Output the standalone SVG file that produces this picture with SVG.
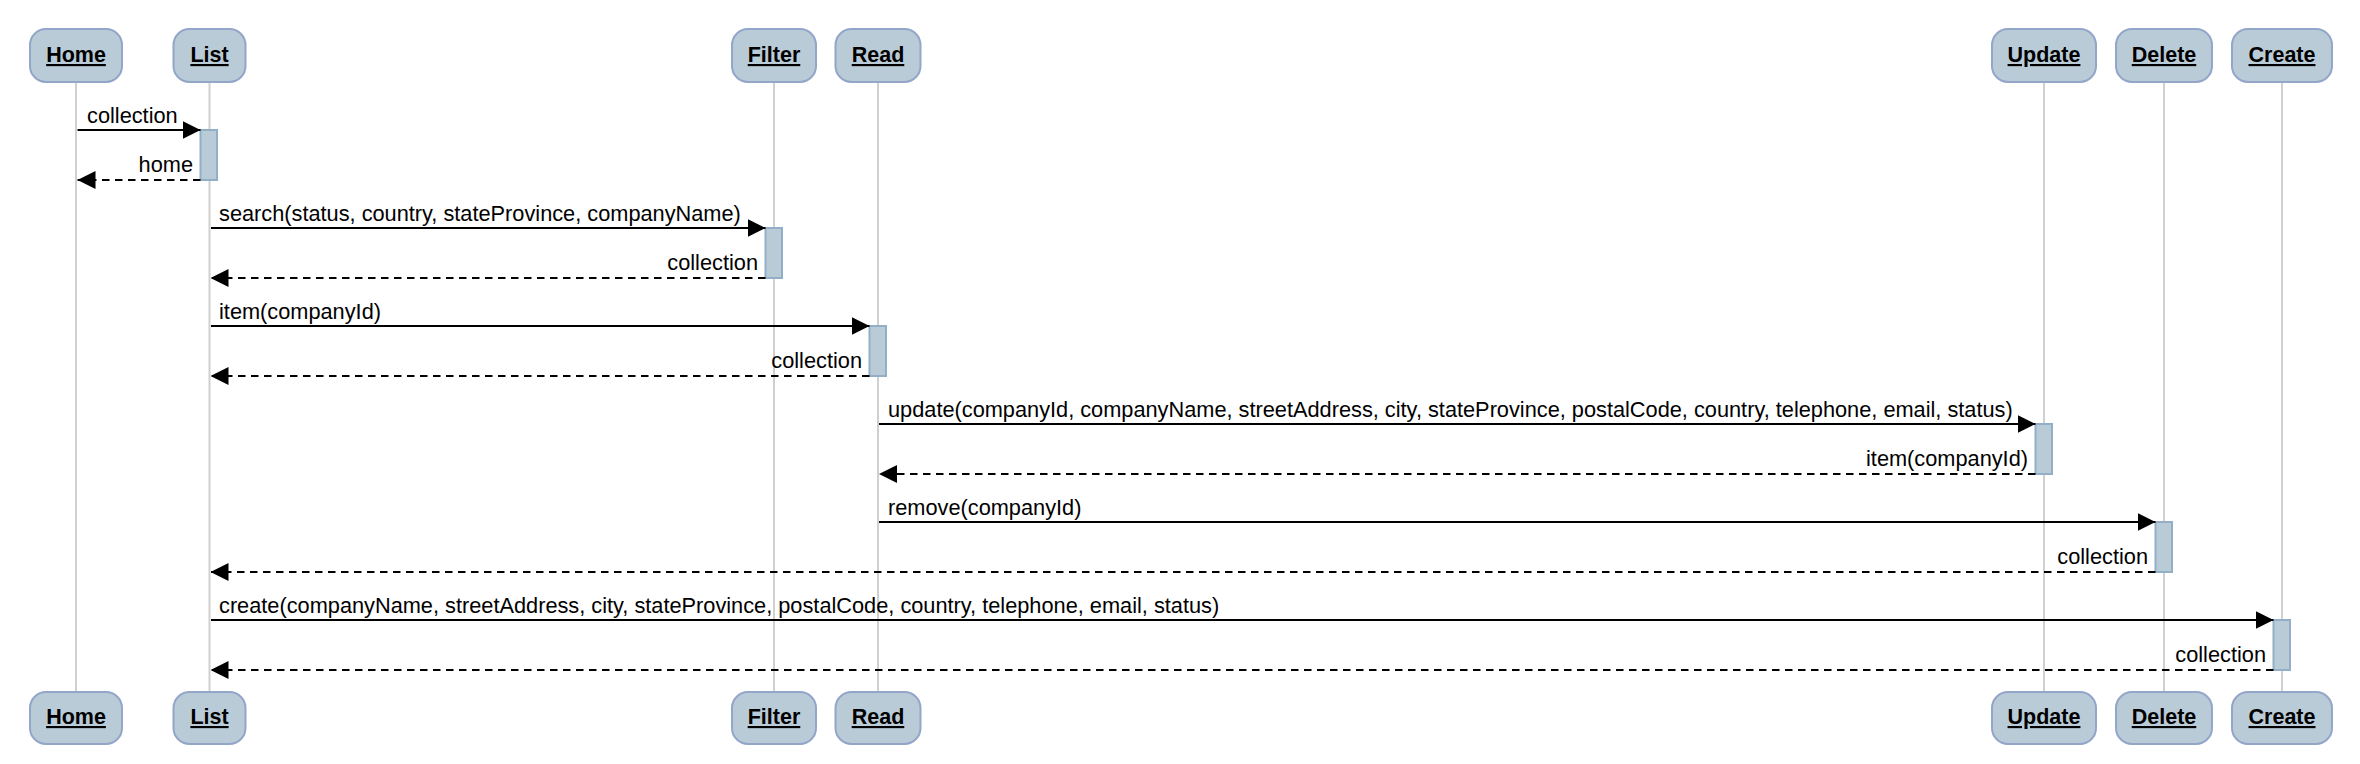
<svg xmlns="http://www.w3.org/2000/svg" width="2360" height="764" viewBox="0 0 2360 764">
<style>
.box{fill:#bacbd8;stroke:#93a5c8;stroke-width:2}
.title{font-family:"Liberation Sans",Arial,sans-serif;font-size:21.5px;font-weight:bold;text-anchor:middle;text-decoration:underline;fill:#000}
.life{stroke:#d0d0d0;stroke-width:2}
.act{fill:#bacbd8;stroke:#93afc8;stroke-width:2}
.msg{stroke:#000;stroke-width:2;fill:none;marker-end:url(#ah)}
.ret{stroke:#000;stroke-width:2;fill:none;stroke-dasharray:7.5 5.5;marker-end:url(#ah)}
.lbl{font-family:"Liberation Sans",Arial,sans-serif;font-size:21.75px;fill:#000}
.r{text-anchor:end}
</style>
<defs>
<marker id="ah" markerUnits="userSpaceOnUse" markerWidth="18" markerHeight="18" refX="18" refY="9" orient="auto">
<path d="M0,0 L18,9 L0,18 z" fill="#000"/>
</marker>
</defs>
<rect width="2360" height="764" fill="#fff"/>
<g id="lifelines">
<line class="life" x1="76" y1="82" x2="76" y2="692"/>
<line class="life" x1="209.5" y1="82" x2="209.5" y2="692"/>
<line class="life" x1="774" y1="82" x2="774" y2="692"/>
<line class="life" x1="878" y1="82" x2="878" y2="692"/>
<line class="life" x1="2044" y1="82" x2="2044" y2="692"/>
<line class="life" x1="2164" y1="82" x2="2164" y2="692"/>
<line class="life" x1="2282" y1="82" x2="2282" y2="692"/>
</g>
<g id="Home">
<rect class="box" x="30" y="29" width="92" height="53" rx="16"/>
<text class="title" x="76" y="62">Home</text>
<rect class="box" x="30" y="692" width="92" height="52" rx="16"/>
<text class="title" x="76" y="724">Home</text>
</g>
<g id="List">
<rect class="box" x="173.5" y="29" width="72" height="53" rx="16"/>
<text class="title" x="209.5" y="62">List</text>
<rect class="box" x="173.5" y="692" width="72" height="52" rx="16"/>
<text class="title" x="209.5" y="724">List</text>
</g>
<g id="Filter">
<rect class="box" x="732" y="29" width="84" height="53" rx="16"/>
<text class="title" x="774" y="62">Filter</text>
<rect class="box" x="732" y="692" width="84" height="52" rx="16"/>
<text class="title" x="774" y="724">Filter</text>
</g>
<g id="Read">
<rect class="box" x="835.5" y="29" width="85" height="53" rx="16"/>
<text class="title" x="878" y="62">Read</text>
<rect class="box" x="835.5" y="692" width="85" height="52" rx="16"/>
<text class="title" x="878" y="724">Read</text>
</g>
<g id="Update">
<rect class="box" x="1992" y="29" width="104" height="53" rx="16"/>
<text class="title" x="2044" y="62">Update</text>
<rect class="box" x="1992" y="692" width="104" height="52" rx="16"/>
<text class="title" x="2044" y="724">Update</text>
</g>
<g id="Delete">
<rect class="box" x="2116" y="29" width="96" height="53" rx="16"/>
<text class="title" x="2164" y="62">Delete</text>
<rect class="box" x="2116" y="692" width="96" height="52" rx="16"/>
<text class="title" x="2164" y="724">Delete</text>
</g>
<g id="Create">
<rect class="box" x="2232" y="29" width="100" height="53" rx="16"/>
<text class="title" x="2282" y="62">Create</text>
<rect class="box" x="2232" y="692" width="100" height="52" rx="16"/>
<text class="title" x="2282" y="724">Create</text>
</g>
<g id="activations">
<rect class="act" x="200.5" y="130" width="16.5" height="50"/>
<rect class="act" x="765.5" y="228" width="16.5" height="50"/>
<rect class="act" x="869.5" y="326" width="16.5" height="50"/>
<rect class="act" x="2035.5" y="424" width="16.5" height="50"/>
<rect class="act" x="2155.5" y="522" width="16.5" height="50"/>
<rect class="act" x="2273.5" y="620" width="16.5" height="50"/>
</g>
<g id="connectors">
<line class="msg" x1="77.5" y1="130" x2="200.5" y2="130"/>
<text class="lbl" x="87" y="123">collection</text>
<line class="ret" x1="200.5" y1="180" x2="77.5" y2="180"/>
<text class="lbl r" x="193" y="172">home</text>

<line class="msg" x1="211" y1="228" x2="765.5" y2="228"/>
<text class="lbl" x="219" y="221">search(status, country, stateProvince, companyName)</text>
<line class="ret" x1="765.5" y1="278" x2="210.5" y2="278"/>
<text class="lbl r" x="758" y="270">collection</text>

<line class="msg" x1="211" y1="326" x2="869.5" y2="326"/>
<text class="lbl" x="219" y="319">item(companyId)</text>
<line class="ret" x1="869.5" y1="376" x2="210.5" y2="376"/>
<text class="lbl r" x="862" y="368">collection</text>

<line class="msg" x1="879" y1="424" x2="2035.5" y2="424"/>
<text class="lbl" x="888" y="417">update(companyId, companyName, streetAddress, city, stateProvince, postalCode, country, telephone, email, status)</text>
<line class="ret" x1="2035.5" y1="474" x2="879" y2="474"/>
<text class="lbl r" x="2028" y="466">item(companyId)</text>

<line class="msg" x1="879" y1="522" x2="2155.5" y2="522"/>
<text class="lbl" x="888" y="515">remove(companyId)</text>
<line class="ret" x1="2155.5" y1="572" x2="210.5" y2="572"/>
<text class="lbl r" x="2148" y="564">collection</text>

<line class="msg" x1="211" y1="620" x2="2273.5" y2="620"/>
<text class="lbl" x="219" y="613">create(companyName, streetAddress, city, stateProvince, postalCode, country, telephone, email, status)</text>
<line class="ret" x1="2273.5" y1="670" x2="210.5" y2="670"/>
<text class="lbl r" x="2266" y="662">collection</text>
</g>
</svg>
